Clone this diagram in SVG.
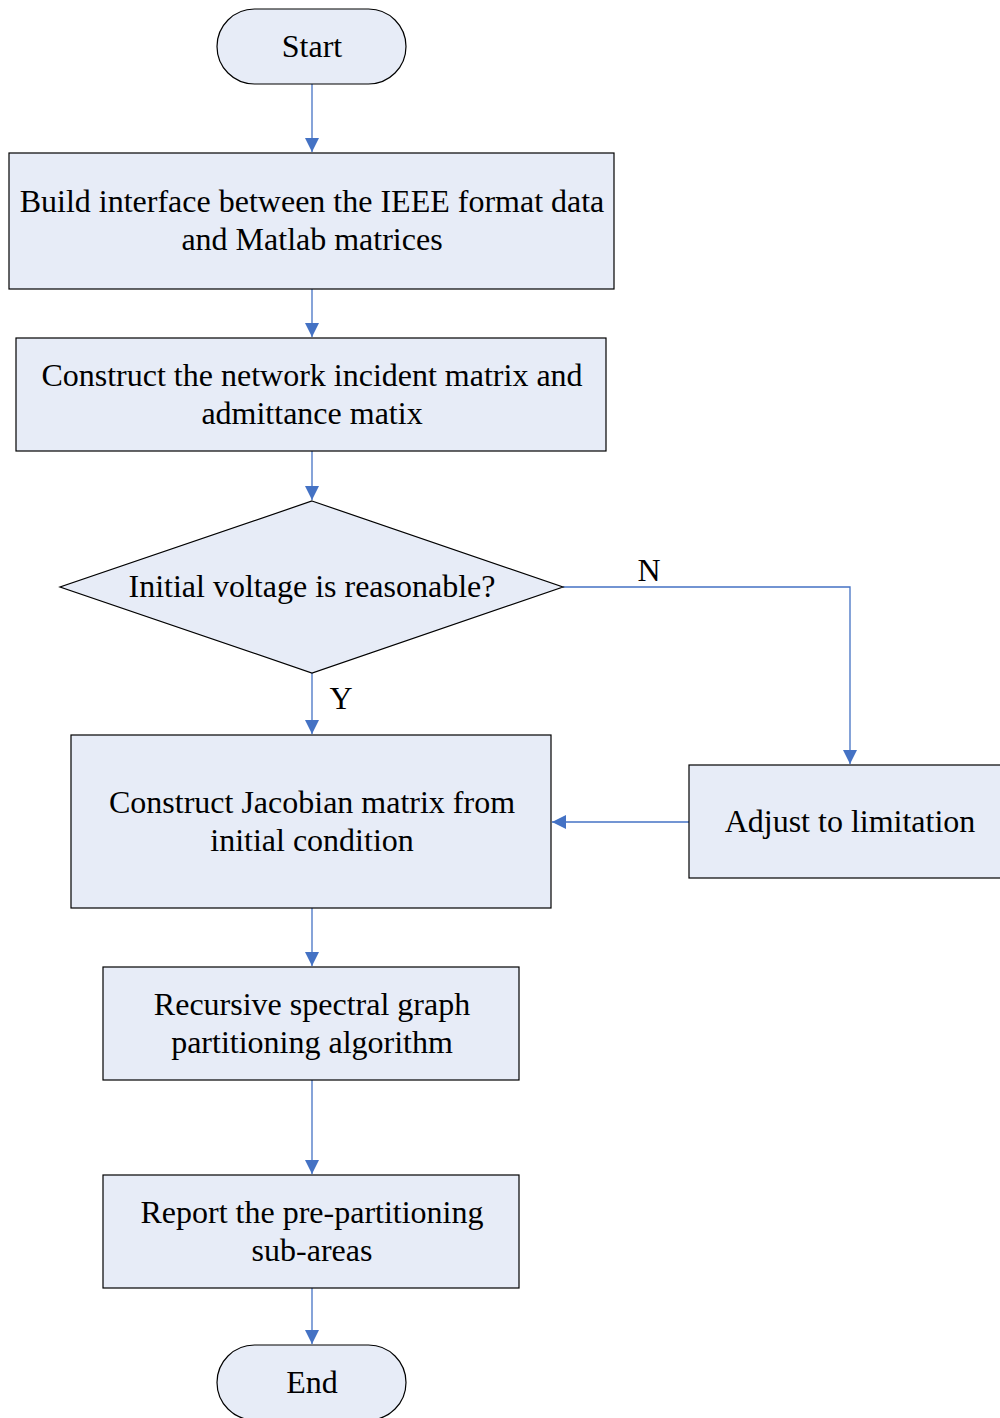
<svg xmlns="http://www.w3.org/2000/svg" width="1000" height="1418" viewBox="0 0 1000 1418">
  <style>
    .shape { fill: #E7ECF7; stroke: #000; stroke-width: 1.2; }
    .lbl { font-family: "Liberation Serif", "Times New Roman", serif; font-size: 32px; fill: #000; text-anchor: middle; dominant-baseline: central; }
    .conn { fill: none; stroke: #4472C4; stroke-width: 1.3; marker-end: url(#arrow); }
  </style>
  <defs>
    <marker id="arrow" viewBox="0 0 14 14" refX="14" refY="7" markerWidth="14" markerHeight="14" markerUnits="userSpaceOnUse" orient="auto">
      <path d="M0,0 L14,7 L0,14 Z" fill="#4472C4"/>
    </marker>
  </defs>
  <rect width="1000" height="1418" fill="#fff"/>

  <g id="connectors">
    <path class="conn" d="M312,84 V152"/>
    <path class="conn" d="M312,289 V337"/>
    <path class="conn" d="M312,451 V500"/>
    <path class="conn" d="M312,673 V734"/>
    <path class="conn" d="M563,587 H850 V764"/>
    <path class="conn" d="M689,822 H552"/>
    <path class="conn" d="M312,908 V966"/>
    <path class="conn" d="M312,1080 V1174"/>
    <path class="conn" d="M312,1288 V1344"/>
    <text class="lbl" x="649" y="570">N</text>
    <text class="lbl" x="341" y="698">Y</text>
  </g>

  <g id="start">
    <rect class="shape" x="217" y="9" width="189" height="75" rx="37.5" ry="37.5"/>
    <text class="lbl" x="312" y="46">Start</text>
  </g>

  <g id="build-interface">
    <rect class="shape" x="9" y="153" width="605" height="136"/>
    <text class="lbl" x="312" y="201">Build interface between the IEEE format data</text>
    <text class="lbl" x="312" y="239">and Matlab matrices</text>
  </g>

  <g id="construct-network">
    <rect class="shape" x="16" y="338" width="590" height="113"/>
    <text class="lbl" x="312" y="375">Construct the network incident matrix and</text>
    <text class="lbl" x="312" y="413">admittance matix</text>
  </g>

  <g id="voltage-check">
    <polygon class="shape" points="312,501 563,587 312,673 60,587"/>
    <text class="lbl" x="312" y="586">Initial voltage is reasonable?</text>
  </g>

  <g id="construct-jacobian">
    <rect class="shape" x="71" y="735" width="480" height="173"/>
    <text class="lbl" x="312" y="802">Construct Jacobian matrix from</text>
    <text class="lbl" x="312" y="840">initial condition</text>
  </g>

  <g id="adjust-limitation">
    <rect class="shape" x="689" y="765" width="322" height="113"/>
    <text class="lbl" x="850" y="821">Adjust to limitation</text>
  </g>

  <g id="spectral-partitioning">
    <rect class="shape" x="103" y="967" width="416" height="113"/>
    <text class="lbl" x="312" y="1004">Recursive spectral graph</text>
    <text class="lbl" x="312" y="1042">partitioning algorithm</text>
  </g>

  <g id="report-subareas">
    <rect class="shape" x="103" y="1175" width="416" height="113"/>
    <text class="lbl" x="312" y="1212">Report the pre-partitioning</text>
    <text class="lbl" x="312" y="1250">sub-areas</text>
  </g>

  <g id="end">
    <rect class="shape" x="217" y="1345" width="189" height="75" rx="37.5" ry="37.5"/>
    <text class="lbl" x="312" y="1382">End</text>
  </g>
</svg>
